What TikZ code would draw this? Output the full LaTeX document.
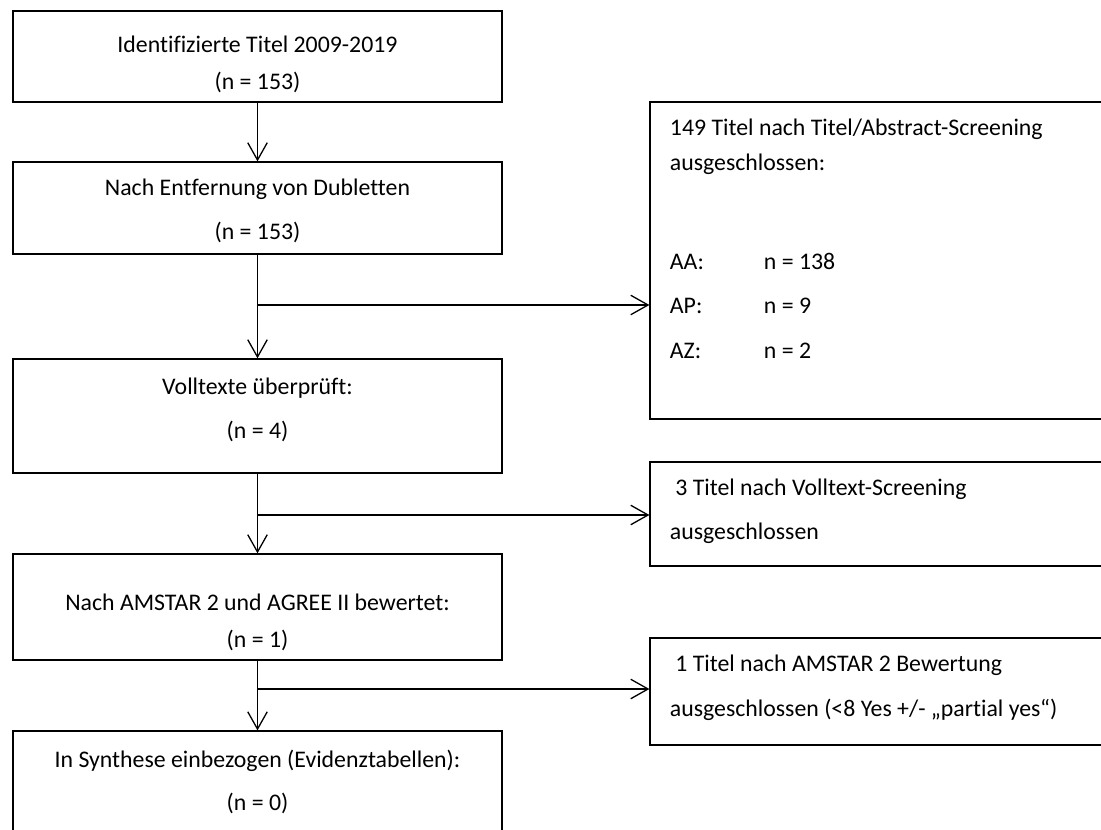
\documentclass[tikz,border=0pt]{standalone}
\usepackage{fontspec}
\setmainfont{Carlito}[Ligatures=NoCommon]
\usetikzlibrary{positioning,arrows.meta}

\begin{document}
\begin{tikzpicture}[x=0.462pt, y=-0.462pt, line width=0.6pt,
  >={Straight Barb[length=8pt,width=9pt]},
  box/.style={draw, rectangle, minimum width=225.9pt, inner sep=0pt},
  ausbox/.style={draw, rectangle, minimum width=214.8pt, inner sep=0pt},
  txt/.style={inner sep=0pt, align=center, font=\fontsize{11pt}{20.3pt}\selectfont},
  ltxt/.style={inner sep=0pt, align=left, font=\fontsize{11pt}{20.3pt}\selectfont}]
  \useasboundingbox (0,0) rectangle (1101,830);
  % main column
  \node[box, minimum height=42pt] (ident) at (257.5,56.5) {};
  \node[box, minimum height=42.5pt] (dubl) at (257.5,208) {};
  \node[box, minimum height=52.7pt] (voll) at (257.5,416) {};
  \node[box, minimum height=49pt] (bewert) at (257.5,607) {};
  \node[box, minimum height=48pt] (synth) at (257.5,783) {};
  \node[txt, below=9.2pt of ident.north] (identtxt) {\rule{0pt}{10pt}Identifizierte Titel 2009-2019\\[-3.2pt](n = 153)};
  \node[txt, below=5.5pt of dubl.north] (dubltxt) {\rule{0pt}{10pt}Nach Entfernung von Dubletten\\(n = 153)};
  \node[txt, below=6.4pt of voll.north] (volltxt) {\rule{0pt}{10pt}Volltexte überprüft:\\(n = 4)};
  \node[txt, below=16.1pt of bewert.north] (bewerttxt) {\rule{0pt}{10pt}Nach AMSTAR 2 und AGREE II bewertet:\\[-3.2pt](n = 1)};
  \node[txt, below=6.9pt of synth.north] (synthtxt) {\rule{0pt}{10pt}In Synthese einbezogen (Evidenztabellen):\\[-0.4pt](n = 0)};
  % exclusions
  \node[ausbox, minimum height=146.5pt] (tas) at (882.5,260.5) {};
  \node[ausbox, minimum height=48pt] (vts) at (882.5,514) {};
  \node[ausbox, minimum height=49.4pt] (ams) at (882.5,691.5) {};
  \node[ltxt, below right=5.5pt and 9.2pt of tas.north west] (tastxt) {\rule{0pt}{10pt}149 Titel nach Titel/Abstract-Screening\\[-4.1pt]
    ausgeschlossen:\\[25.4pt]
    \makebox[43.4pt][l]{AA:}n = 138\\
    \makebox[43.4pt][l]{AP:}n = 9\\[0.5pt]
    \makebox[43.4pt][l]{AZ:}n = 2};
  \node[ltxt, below right=5.5pt and 9.2pt of vts.north west] (vtstxt) {\rule{0pt}{10pt}\ 3 Titel nach Volltext-Screening\\ausgeschlossen};
  \node[ltxt, below right=5.5pt and 9.2pt of ams.north west] (amstxt) {\rule{0pt}{10pt}\ 1 Titel nach AMSTAR 2 Bewertung\\[0.5pt]ausgeschlossen (<8 Yes +/- „partial yes“)};
  % connectors
  \coordinate (k1) at (257.5,305);
  \coordinate (k2) at (257.5,515);
  \coordinate (k3) at (257.5,689);
  \draw[->] (ident) -- (dubl);
  \draw[->] (dubl) -- (voll);
  \draw[->] (voll) -- (bewert);
  \draw[->] (bewert) -- (synth);
  \draw[->] (k1) -- (k1 -| tas.west);
  \draw[->] (k2) -- (k2 -| vts.west);
  \draw[->] (k3) -- (k3 -| ams.west);
\end{tikzpicture}
\end{document}
